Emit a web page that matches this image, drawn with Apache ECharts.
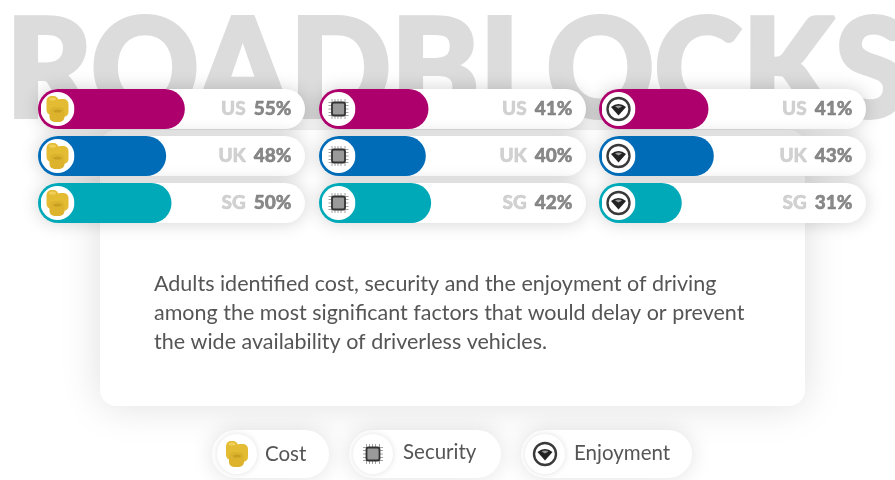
<!DOCTYPE html>
<html>
<head>
<meta charset="utf-8">
<title>Roadblocks</title>
<script src="https://cdn.jsdelivr.net/npm/echarts@6/dist/echarts.min.js"></script>
<style>
  html, body { margin: 0; padding: 0; background: #fff; }
  #chart { width: 895px; height: 480px; }
</style>
</head>
<body>
<div id="chart"></div>
<script>
const countries = ["US", "UK", "SG"];
const factors = ["Cost", "Security", "Enjoyment"];
const costValues = [55, 48, 50];
const securityValues = [41, 40, 42];
const enjoymentValues = [41, 43, 31];
const titleText = "ROADBLOCKS";
const bodyLines = [
  "Adults identified cost, security and the enjoyment of driving",
  "among the most significant factors that would delay or prevent",
  "the wide availability of driverless vehicles."
];

const countryColors = ["#AE006C", "#006CB7", "#00A9B7"];
const columnLeft = [38, 319, 599];
const fontName = "Lato, 'Open Sans', sans-serif";

function svgIcon(inner) {
  return "image://data:image/svg+xml;charset=utf-8," + encodeURIComponent(
    '<svg xmlns="http://www.w3.org/2000/svg" width="68" height="68" viewBox="0 0 34 34">' +
    '<circle cx="17" cy="17" r="17" fill="#fff"/>' + inner + "</svg>");
}

const coinIcon = svgIcon(
  '<rect x="6" y="4" width="12" height="19" rx="5" fill="#E4BC33"/>' +
  '<rect x="15" y="7" width="13" height="18" rx="5" fill="#E4BC33"/>' +
  '<rect x="9" y="15" width="15" height="15" rx="5" fill="#DDB22C"/>' +
  '<ellipse cx="12" cy="7" rx="3.500" ry="1.600" fill="#F0D05A"/>' +
  '<ellipse cx="17" cy="19" rx="4" ry="1.500" fill="#C79F22"/>');
const chipIcon = svgIcon(
  '<path d="M10.500 7V27M13.500 7V27M16.500 7V27M19.500 7V27M23.500 7V27M7 10.500H27M7 13.500H27M7 17H27M7 20.500H27M7 23.500H27" stroke="#8A8A8A" stroke-width="0.800"/>' +
  '<rect x="10.500" y="10.500" width="13" height="13" rx="2" fill="#9A9A9A" stroke="#333" stroke-width="1.800"/>');
const eyeIcon = svgIcon(
  '<circle cx="17" cy="17" r="11" fill="#fff" stroke="#3A3A3A" stroke-width="2.400"/>' +
  '<path d="M9.500 15Q17 9 24.500 15L17 23.500Z" fill="#222"/>' +
  '<path d="M13.500 14.500Q17 12.500 20.500 14.500L17 16.500Z" fill="#999"/>');
const icons = [coinIcon, chipIcon, eyeIcon];
const columns = [costValues, securityValues, enjoymentValues];

let grid = [], xAxis = [], yAxis = [], series = [];
columns.forEach(function(values, i) {
  grid.push({ left: columnLeft[i], top: 85.5, width: 267, height: 141 });
  xAxis.push({ type: "value", gridIndex: i, min: 0, max: 100, show: false });
  yAxis.push({ type: "category", gridIndex: i, data: countries, inverse: true, show: false });

  series.push({
    type: "bar",
    name: factors[i],
    xAxisIndex: i,
    yAxisIndex: i,
    barWidth: 40,
    showBackground: true,
    backgroundStyle: {
      color: "#fff",
      borderRadius: 20,
      shadowBlur: 18,
      shadowColor: "rgba(0,0,0,0.18)"
    },
    itemStyle: { borderRadius: 20 },
    data: values.map(function(v, r) {
      return { value: v, itemStyle: { color: countryColors[r] } };
    })
  });
  // white disc with the factor icon, sits at the start of the pill
  series.push({
    type: "scatter",
    xAxisIndex: i,
    yAxisIndex: i,
    z: 5,
    symbol: icons[i],
    symbolSize: 34,
    symbolOffset: [19.5, 0],
    itemStyle: { opacity: 1 },
    data: countries.map(function(c) { return [0, c]; })
  });
  // country + percent at the right end of the track
  series.push({
    type: "scatter",
    xAxisIndex: i,
    yAxisIndex: i,
    z: 5,
    symbolSize: 1,
    itemStyle: { color: "transparent" },
    label: {
      show: true,
      position: "left",
      distance: 13,
      formatter: function(p) {
        return "{c|" + p.value[1] + "}{v|" + values[p.dataIndex] + "%}";
      },
      rich: {
        c: { color: "#C6C6C6", fontFamily: fontName, fontWeight: 900, fontSize: 19, padding: [0, 8, 0, 0], textBorderColor: "#C6C6C6", textBorderWidth: 0.5 },
        v: { color: "#6B6B6B", fontFamily: fontName, fontWeight: 900, fontSize: 19, textBorderColor: "#6B6B6B", textBorderWidth: 0.5 }
      }
    },
    data: countries.map(function(c) { return [100, c]; })
  });
});

let graphic = [
  {
    type: "text",
    x: 6, y: 73,
    scaleX: 0.973,
    z: -3,
    style: {
      text: titleText,
      fill: "#DCDCDC",
      stroke: "#DCDCDC",
      lineWidth: 4,
      font: "900 137px " + fontName,
      textVerticalAlign: "middle"
    }
  },
  {
    type: "rect",
    z: -2,
    shape: { x: 100, y: 130, width: 705, height: 276, r: 16 },
    style: { fill: "#fff", shadowBlur: 40, shadowColor: "rgba(0,0,0,0.13)" }
  }
];

bodyLines.forEach(function(line, i) {
  graphic.push({
    type: "text",
    x: 154, y: 284 + i * 29,
    z: -1,
    style: {
      text: line,
      fill: "#555",
      font: "400 21.500px " + fontName,
      textVerticalAlign: "middle"
    }
  });
});

const pillBox = [[212, 117], [349, 152], [521, 171]];
const pillIconX = [237, 373, 545];
const pillTextX = [265, 403, 574];
const pillTextY = [454, 452, 453];
factors.forEach(function(name, i) {
  graphic.push({
    type: "rect",
    z: -1,
    shape: { x: pillBox[i][0], y: 430, width: pillBox[i][1], height: 48, r: 24 },
    style: { fill: "#fff", shadowBlur: 22, shadowColor: "rgba(0,0,0,0.12)" }
  });
  graphic.push({
    type: "circle",
    z: 0,
    shape: { cx: pillIconX[i], cy: 454, r: 20 },
    style: { fill: "#fff", shadowBlur: 6, shadowColor: "rgba(0,0,0,0.12)" }
  });
  graphic.push({
    type: "image",
    z: 1,
    style: { image: icons[i].slice(8), x: pillIconX[i] - 17, y: 437, width: 34, height: 34 }
  });
  graphic.push({
    type: "text",
    x: pillTextX[i], y: pillTextY[i],
    z: 1,
    style: {
      text: name,
      fill: "#555",
      font: "400 20.500px " + fontName,
      textVerticalAlign: "middle"
    }
  });
});

let option = {
  animation: false,
  backgroundColor: "#fff",
  grid: grid,
  xAxis: xAxis,
  yAxis: yAxis,
  graphic: graphic,
  series: series
};

let myChart = echarts.init(document.getElementById("chart"));
myChart.setOption(option);
</script>
</body>
</html>
